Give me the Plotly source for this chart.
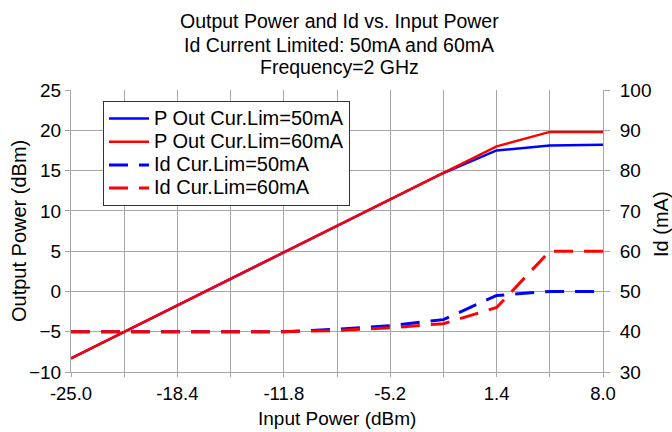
import plotly.graph_objects as go

pin = [-25.0, -21.7, -18.4, -15.1, -11.8, -8.5, -5.2, -1.9, 1.4, 4.7, 8.0]
pout_50 = [-8.3, -5.0, -1.7, 1.6, 4.9, 8.2, 11.5, 14.7, 17.5, 18.1, 18.2]
pout_60 = [-8.3, -5.0, -1.7, 1.6, 4.9, 8.2, 11.5, 14.7, 18.0, 19.8, 19.8]
id_50 = [40.0, 40.0, 40.0, 40.0, 40.0, 40.6, 41.5, 43.0, 49.0, 50.0, 50.0]
id_60 = [40.0, 40.0, 40.0, 40.0, 40.0, 40.3, 41.0, 42.0, 46.0, 60.0, 60.0]
x_labels = ["-25.0", "", "-18.4", "", "-11.8", "", "-5.2", "", "1.4", "", "8.0"]
series_names = ["P Out Cur.Lim=50mA", "P Out Cur.Lim=60mA",
                "Id Cur.Lim=50mA", "Id Cur.Lim=60mA"]
title_lines = ["Output Power and Id vs. Input Power",
               "Id Current Limited: 50mA and 60mA",
               "Frequency=2 GHz"]

BLUE = "#0000FF"
RED = "#FF0000"
FONT = "Liberation Sans, Arial, sans-serif"
GRID = "#A6A6A6"
DASH = "19px,11px"

# plot area in pixels
L, R, T, B = 71, 603, 90, 372
W, H = R - L, B - T


def px_x(p):
    return (p - L) / W


def px_y(p):
    return (B - p) / H


def legend_name(s):
    # larger visible text inside a compact legend row
    return '<span style="font-size:20px">' + s + '</span>'


fig = go.Figure()
fig.add_trace(go.Scatter(x=pin, y=pout_50, mode="lines", name=legend_name(series_names[0]),
                         line=dict(color=BLUE, width=2.5)))
fig.add_trace(go.Scatter(x=pin, y=pout_60, mode="lines", name=legend_name(series_names[1]),
                         line=dict(color=RED, width=2.5)))
fig.add_trace(go.Scatter(x=pin, y=id_50, mode="lines", name=legend_name(series_names[2]), yaxis="y2",
                         line=dict(color=BLUE, width=3, dash=DASH)))
fig.add_trace(go.Scatter(x=pin, y=id_60, mode="lines", name=legend_name(series_names[3]), yaxis="y2",
                         line=dict(color=RED, width=3, dash=DASH)))

for line, yc in zip(title_lines, [21.3, 44.7, 67.3]):
    fig.add_annotation(text=line, xref="paper", yref="paper",
                       x=px_x(339), y=px_y(yc), xanchor="center", yanchor="middle",
                       showarrow=False, font=dict(family=FONT, size=19.5, color="black"))

# axis titles
fig.add_annotation(text="Input Power (dBm)", xref="paper", yref="paper",
                   x=px_x(337), y=px_y(418), xanchor="center", yanchor="middle",
                   showarrow=False, font=dict(family=FONT, size=19, color="black"))
fig.add_annotation(text="Output Power (dBm)", xref="paper", yref="paper", textangle=-90,
                   x=px_x(19), y=px_y(231), xanchor="center", yanchor="middle",
                   showarrow=False, font=dict(family=FONT, size=20, color="black"))
fig.add_annotation(text="Id (mA)", xref="paper", yref="paper", textangle=-90,
                   x=px_x(661), y=px_y(224), xanchor="center", yanchor="middle",
                   showarrow=False, font=dict(family=FONT, size=20, color="black"))

fig.update_layout(
    width=672, height=432,
    paper_bgcolor="white", plot_bgcolor="white",
    margin=dict(l=L, r=672 - R, t=T, b=432 - B),
    font=dict(family=FONT, size=19, color="black"),
    showlegend=True,
    legend=dict(x=px_x(103), y=px_y(101), xanchor="left", yanchor="top",
                bgcolor="white", bordercolor="#333333", borderwidth=1,
                font=dict(family=FONT, size=15.5, color="black"),
                itemwidth=40, tracegroupgap=0),
    xaxis=dict(range=[-25, 8], tickmode="array", tickvals=pin, ticktext=x_labels,
               showgrid=True, gridcolor=GRID, gridwidth=1,
               ticks="outside", ticklen=4, tickcolor=GRID,
               showline=True, linecolor=GRID, zeroline=False,
               ticklabelstandoff=1,
               tickfont=dict(size=18.5)),
    yaxis=dict(range=[-10, 25], dtick=5, tick0=-10,
               showgrid=True, gridcolor=GRID, gridwidth=1,
               ticks="outside", ticklen=5, tickcolor=GRID,
               showline=True, linecolor=GRID, zeroline=False,
               tickfont=dict(size=19)),
    yaxis2=dict(range=[30, 100], dtick=10, tick0=30, overlaying="y", side="right",
                showgrid=False, ticks="outside", ticklen=6, tickcolor=GRID,
                showline=True, linecolor=GRID, zeroline=False,
                ticklabelstandoff=6,
                tickfont=dict(size=19)),
)

fig.write_html("out.html", config={"displayModeBar": False},
               post_script="document.body.style.margin='0';document.body.style.overflow='hidden';")
